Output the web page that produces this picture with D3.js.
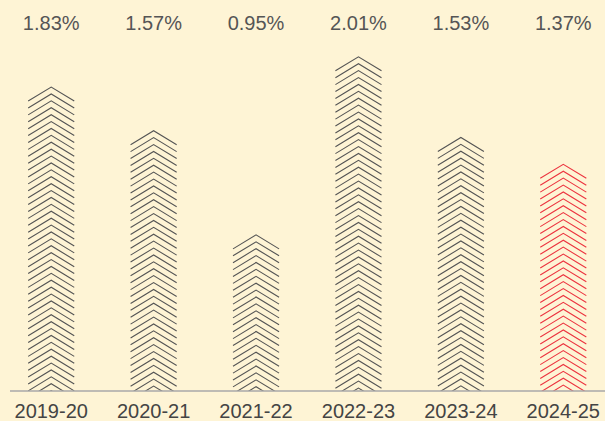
<!DOCTYPE html>
<html>
<head>
<meta charset="utf-8">
<script src="https://cdn.jsdelivr.net/npm/d3@7"></script>
<style>
  html, body { margin: 0; padding: 0; background: #fef4d5; }
  svg { display: block; }
</style>
</head>
<body>
<svg id="chart" width="605" height="421"></svg>
<script>
// Yearly growth rates, one chevron column per year
const years = ["2019-20", "2020-21", "2021-22", "2022-23", "2023-24", "2024-25"];
const rates = [1.83, 1.57, 0.95, 2.01, 1.53, 1.37];
const rateLabels = ["1.83%", "1.57%", "0.95%", "2.01%", "1.53%", "1.37%"];
const highlightYear = "2024-25";

const W = 605, H = 421;
const baseY = 391;
const svg = d3.select("#chart");

svg.append("rect").attr("width", W).attr("height", H).attr("fill", "#fef4d5");

const x = d3.scaleBand().domain(years).range([0, 614.5]).paddingInner(0.55).paddingOuter(0.275);
const y = d3.scaleLinear().domain([0, 2.2]).range([baseY, baseY - 2.2 * 168]);

const bw = x.bandwidth();
const rise = 14;      // vertical drop of each chevron arm
const gap = 6.9;      // spacing between stacked chevrons

const data = years.map((yr, i) => ({ year: yr, value: rates[i], label: rateLabels[i] }));

const defs = svg.append("defs");
data.forEach((d, i) => {
  defs.append("clipPath").attr("id", "clip" + i)
    .append("rect")
    .attr("x", x(d.year) - 1)
    .attr("y", 0)
    .attr("width", bw + 2)
    .attr("height", baseY);
});

const cols = svg.selectAll("g.col").data(data).join("g")
  .attr("class", "col")
  .attr("clip-path", (d, i) => `url(#clip${i})`);

cols.each(function(d) {
  const g = d3.select(this);
  const x0 = x(d.year), cx = x0 + bw / 2, x1 = x0 + bw;
  const peak = y(d.value) + 3.5;
  const peaks = d3.range(peak, baseY + 1, gap);
  g.selectAll("path").data(peaks).join("path")
    .attr("d", p => `M${x0},${p + rise}L${cx},${p}L${x1},${p + rise}`)
    .attr("fill", "none")
    .attr("stroke", d.year === highlightYear ? "#ec3540" : "#555")
    .attr("stroke-width", 1.1);
});

// baseline
svg.append("line")
  .attr("x1", 10).attr("x2", W)
  .attr("y1", baseY).attr("y2", baseY)
  .attr("stroke", "#a9a9a9").attr("stroke-width", 1.6);

// value labels along the top
svg.selectAll("text.val").data(data).join("text")
  .attr("class", "val")
  .attr("x", d => x(d.year) + bw / 2)
  .attr("y", 30)
  .attr("text-anchor", "middle")
  .attr("font-family", "Liberation Sans, Arial, sans-serif")
  .attr("font-size", 20)
  .attr("fill", "#555")
  .text(d => d.label);

// year labels
const xAxis = d3.axisBottom(x).tickSize(0).tickPadding(0);
const ax = svg.append("g").attr("transform", `translate(0,${baseY})`).call(xAxis);
ax.select(".domain").remove();
ax.selectAll("text")
  .attr("y", 27)
  .attr("dy", 0)
  .attr("font-family", "Liberation Sans, Arial, sans-serif")
  .attr("font-size", 20)
  .attr("fill", "#444");
</script>
</body>
</html>
